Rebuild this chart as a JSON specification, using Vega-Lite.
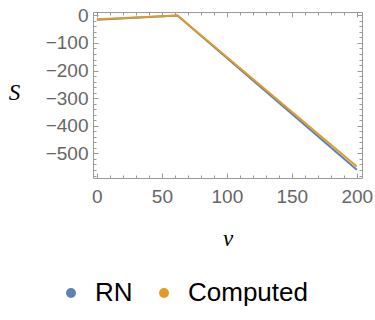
{
  "$schema": "https://vega.github.io/schema/vega-lite/v6.json",
  "width": 269,
  "height": 166,
  "autosize": "none",
  "padding": {"left": 93, "top": 12, "right": 13, "bottom": 142},
  "background": "white",
  "config": {
    "view": {"stroke": "#999999", "strokeWidth": 1},
    "axis": {
      "domain": false,
      "grid": false,
      "labelFont": "Liberation Sans",
      "labelFontSize": 19,
      "labelColor": "#666666",
      "tickColor": "#999999",
      "tickSize": -5,
      "titleFont": "Liberation Serif",
      "titleFontStyle": "italic",
      "titleFontWeight": "normal",
      "titleFontSize": 23,
      "titleColor": "#000000"
    }
  },
  "data": {
    "values": [
      {"v": 0, "S": -16, "series": "RN"},
      {"v": 62, "S": -1, "series": "RN"},
      {"v": 200, "S": -559, "series": "RN"},
      {"v": 0, "S": -14, "series": "Computed"},
      {"v": 62, "S": -1, "series": "Computed"},
      {"v": 200, "S": -547, "series": "Computed"}
    ]
  },
  "layer": [
    {
      "mark": {"type": "line", "strokeWidth": 2},
      "encoding": {
        "x": {
          "field": "v", "type": "quantitative",
          "scale": {"domain": [-3, 204], "nice": false, "zero": false},
          "axis": {"orient": "bottom", "values": [0, 50, 100, 150, 200], "title": "v", "titleAngle": 0, "titlePadding": 21, "labelPadding": 14}
        },
        "y": {
          "field": "S", "type": "quantitative",
          "scale": {"domain": [-589, 12], "nice": false, "zero": false},
          "axis": {"orient": "left", "values": [0, -100, -200, -300, -400, -500], "title": "S", "titleAngle": 0, "titleAlign": "center", "titleBaseline": "middle", "titleX": -79, "titleY": 80, "labelPadding": 10}
        },
        "color": {
          "field": "series", "type": "nominal",
          "scale": {"domain": ["RN", "Computed"], "range": ["#5E81B5", "#E19C24"]},
          "legend": {
            "title": null,
            "orient": "none",
            "direction": "horizontal",
            "legendX": -35,
            "legendY": 268,
            "padding": 0,
            "symbolType": "circle",
            "symbolSize": 100,
            "symbolStrokeWidth": 0,
            "labelFont": "Liberation Sans",
            "labelFontSize": 26,
            "labelColor": "#000000",
            "columnPadding": 18,
            "labelOffset": 11,
            "encode": {
              "symbols": {"update": {"fill": {"scale": "color", "field": "value"}, "fillOpacity": {"value": 1}}}
            }
          }
        }
      }
    },
    {
      "mark": {"type": "line", "opacity": 0},
      "encoding": {
        "x": {"field": "v", "type": "quantitative", "axis": {"orient": "top", "values": [0, 50, 100, 150, 200], "labels": false, "title": null}},
        "y": {"field": "S", "type": "quantitative", "axis": {"orient": "right", "values": [0, -100, -200, -300, -400, -500], "labels": false, "title": null}}
      }
    },
    {
      "mark": {"type": "line", "opacity": 0},
      "encoding": {
        "x": {"field": "v", "type": "quantitative", "axis": {"orient": "bottom", "values": [10, 20, 30, 40, 60, 70, 80, 90, 110, 120, 130, 140, 160, 170, 180, 190], "labels": false, "title": null, "tickSize": -3}},
        "y": {"field": "S", "type": "quantitative", "axis": {"orient": "left", "values": [-20, -40, -60, -80, -120, -140, -160, -180, -220, -240, -260, -280, -320, -340, -360, -380, -420, -440, -460, -480, -520, -540, -560, -580], "labels": false, "title": null, "tickSize": -3}}
      }
    },
    {
      "mark": {"type": "line", "opacity": 0},
      "encoding": {
        "x": {"field": "v", "type": "quantitative", "axis": {"orient": "top", "values": [10, 20, 30, 40, 60, 70, 80, 90, 110, 120, 130, 140, 160, 170, 180, 190], "labels": false, "title": null, "tickSize": -3}},
        "y": {"field": "S", "type": "quantitative", "axis": {"orient": "right", "values": [-20, -40, -60, -80, -120, -140, -160, -180, -220, -240, -260, -280, -320, -340, -360, -380, -420, -440, -460, -480, -520, -540, -560, -580], "labels": false, "title": null, "tickSize": -3}}
      }
    }
  ]
}
